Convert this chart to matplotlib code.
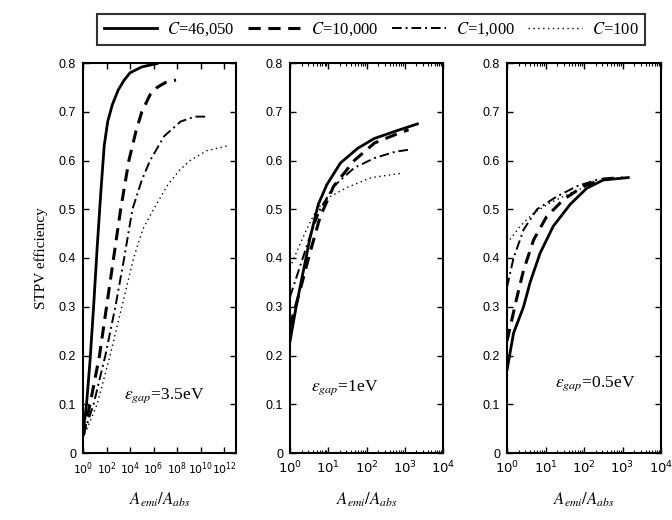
import numpy as np
import matplotlib
matplotlib.use("Agg")
import matplotlib.pyplot as plt
from matplotlib.lines import Line2D
from matplotlib.ticker import LogLocator, FixedLocator, NullFormatter, FuncFormatter

# ---------------- data (x as log10 exponents of A_emi/A_abs) ----------------
series_labels = ["C=46,050", "C=10,000", "C=1,000", "C=100"]

# Panel 1: eps_gap = 3.5 eV
p1_c46050_exp = [0, 0.3, 0.6, 0.9, 1.2, 1.5, 1.8, 2.1, 2.5, 3.0, 3.5, 4.0, 5.0, 6.3]
p1_c46050_val = [0.04, 0.10, 0.19, 0.30, 0.42, 0.53, 0.63, 0.68, 0.715, 0.745, 0.765, 0.78, 0.792, 0.799]
p1_c10000_exp = [0, 0.6, 1.0, 1.4, 2.0, 2.6, 3.2, 3.9, 4.5, 5.0, 5.7, 6.3, 7.0, 7.9]
p1_c10000_val = [0.035, 0.10, 0.15, 0.20, 0.30, 0.40, 0.50, 0.60, 0.66, 0.70, 0.735, 0.75, 0.76, 0.765]
p1_c1000_exp = [0, 0.9, 1.9, 2.75, 3.5, 4.2, 5.0, 5.7, 6.9, 8.3, 9.5, 10.6]
p1_c1000_val = [0.035, 0.10, 0.20, 0.30, 0.40, 0.50, 0.56, 0.60, 0.65, 0.68, 0.69, 0.69]
p1_c100_exp = [0, 1.2, 2.3, 3.3, 4.3, 5.1, 6.0, 7.2, 8.2, 9.1, 10.5, 12.3]
p1_c100_val = [0.03, 0.10, 0.20, 0.30, 0.40, 0.46, 0.50, 0.55, 0.58, 0.60, 0.62, 0.63]

# Panel 2: eps_gap = 1 eV
p2_c46050_exp = [0, 0.16, 0.34, 0.52, 0.74, 0.96, 1.32, 1.77, 2.2, 2.75, 3.33]
p2_c46050_val = [0.229, 0.30, 0.37, 0.44, 0.51, 0.55, 0.595, 0.625, 0.645, 0.66, 0.675]
p2_c10000_exp = [0, 0.25, 0.52, 0.79, 1.14, 1.68, 2.21, 2.75, 3.1]
p2_c10000_val = [0.26, 0.33, 0.41, 0.485, 0.547, 0.60, 0.636, 0.653, 0.663]
p2_c1000_exp = [0, 0.25, 0.52, 0.79, 1.14, 1.68, 2.21, 2.75, 3.1]
p2_c1000_val = [0.32, 0.38, 0.444, 0.50, 0.547, 0.585, 0.605, 0.618, 0.622]
p2_c100_exp = [0, 0.16, 0.43, 0.7, 1.05, 1.5, 2.13, 2.93]
p2_c100_val = [0.38, 0.41, 0.458, 0.50, 0.526, 0.545, 0.565, 0.574]

# Panel 3: eps_gap = 0.5 eV
p3_c46050_exp = [0, 0.17, 0.43, 0.6, 0.86, 1.2, 1.64, 2.07, 2.5, 3.15]
p3_c46050_val = [0.17, 0.246, 0.30, 0.35, 0.41, 0.465, 0.51, 0.543, 0.56, 0.565]
p3_c10000_exp = [0, 0.26, 0.43, 0.69, 1.03, 1.47, 1.98, 2.5, 3.0]
p3_c10000_val = [0.23, 0.32, 0.375, 0.437, 0.485, 0.52, 0.547, 0.562, 0.565]
p3_c1000_exp = [0, 0.17, 0.43, 0.78, 1.29, 1.81, 2.4]
p3_c1000_val = [0.34, 0.40, 0.458, 0.50, 0.526, 0.547, 0.562]
p3_c100_exp = [0, 0.34, 0.69, 1.12, 1.64, 2.24]
p3_c100_val = [0.43, 0.465, 0.492, 0.513, 0.533, 0.553]

panel_notes = ["=3.5eV", "=1eV", "=0.5eV"]
y_ticks = [0, 0.1, 0.2, 0.3, 0.4, 0.5, 0.6, 0.7, 0.8]
y_ticklabels = ["0", "0.1", "0.2", "0.3", "0.4", "0.5", "0.6", "0.7", "0.8"]

panels = [
    [(p1_c46050_exp, p1_c46050_val), (p1_c10000_exp, p1_c10000_val),
     (p1_c1000_exp, p1_c1000_val), (p1_c100_exp, p1_c100_val)],
    [(p2_c46050_exp, p2_c46050_val), (p2_c10000_exp, p2_c10000_val),
     (p2_c1000_exp, p2_c1000_val), (p2_c100_exp, p2_c100_val)],
    [(p3_c46050_exp, p3_c46050_val), (p3_c10000_exp, p3_c10000_val),
     (p3_c1000_exp, p3_c1000_val), (p3_c100_exp, p3_c100_val)],
]

# ---------------- styling ----------------
styles = [
    dict(linestyle="-", linewidth=2.0),
    dict(linestyle=(0, (4, 2.5)), linewidth=2.2),
    dict(linestyle=(0, (5, 2, 1, 2)), linewidth=1.4),
    dict(linestyle=(0, (1, 2.5)), linewidth=1.0),
]

W, H = 672, 520
fig = plt.figure(figsize=(W / 100, H / 100), dpi=100)

def px_axes(x0, x1, ytop, ybot):
    return fig.add_axes([x0 / W, 1 - ybot / H, (x1 - x0) / W, (ybot - ytop) / H])

axes = [px_axes(83, 236, 63, 453), px_axes(290, 443, 63, 453), px_axes(507, 661, 63, 453)]
xmax = [1e13, 1e4, 1e4]
note_pos = [(0.27, 0.14), (0.14, 0.16), (0.31, 0.17)]

def pow_fmt(v, pos):
    e = int(round(np.log10(v)))
    return r"$10^{%d}$" % e

for i, ax in enumerate(axes):
    for (ex, va), st in zip(panels[i], styles):
        ax.plot(10.0 ** np.asarray(ex), va, color="black", **st)
    ax.set_xscale("log")
    ax.set_xlim(1, xmax[i])
    ax.set_ylim(0, 0.8)
    ax.set_yticks(y_ticks)
    ax.set_yticklabels(y_ticklabels, fontsize=9, family="Liberation Sans")
    if i == 0:
        ax.xaxis.set_major_locator(FixedLocator([10.0 ** k for k in range(0, 13, 2)]))
        ax.xaxis.set_minor_locator(FixedLocator([]))
        ax.xaxis.set_major_formatter(FuncFormatter(pow_fmt))
        fs = 7.8
    else:
        ax.xaxis.set_major_locator(FixedLocator([10.0 ** k for k in range(0, 5)]))
        ax.xaxis.set_minor_locator(LogLocator(base=10, subs=np.arange(2, 10), numticks=20))
        ax.xaxis.set_minor_formatter(NullFormatter())
        ax.xaxis.set_major_formatter(FuncFormatter(pow_fmt))
        fs = 9.5
    for lab in ax.get_xticklabels():
        lab.set_fontsize(fs)
        lab.set_math_fontfamily("dejavusans")
    ax.tick_params(which="both", direction="in", top=True, right=True)
    ax.tick_params(which="major", length=4, width=1, pad=5)
    ax.tick_params(which="minor", length=2, width=0.8)
    for sp in ax.spines.values():
        sp.set_linewidth(1.5)
    ax.set_xlabel(r"$A_{emi}/A_{abs}$", fontsize=12, math_fontfamily="stix", labelpad=10)
    ax.text(note_pos[i][0], note_pos[i][1], r"$\varepsilon_{gap}$" + panel_notes[i],
            transform=ax.transAxes, fontsize=12.5, family="Liberation Serif",
            math_fontfamily="stix", ha="left", va="baseline")

axes[0].set_ylabel("STPV efficiency", fontsize=11, family="Liberation Serif", labelpad=8)

handles = [Line2D([], [], color="black", **st) for st in styles]
labels = [r"$C$" + s[1:] for s in series_labels]
leg = fig.legend(handles, labels, loc="lower left",
                 bbox_to_anchor=(97 / W, 1 - 45 / H, (645 - 97) / W, 37 / H),
                 mode="expand", ncol=4, frameon=True, fancybox=False,
                 edgecolor="black", handlelength=3.2, handletextpad=0.6,
                 borderaxespad=0, columnspacing=0.8,
                 prop={"family": "Liberation Serif", "size": 12})
leg.get_frame().set_linewidth(1.5)
for t in leg.get_texts():
    t.set_math_fontfamily("stix")

fig.savefig("out.png", dpi=100)
